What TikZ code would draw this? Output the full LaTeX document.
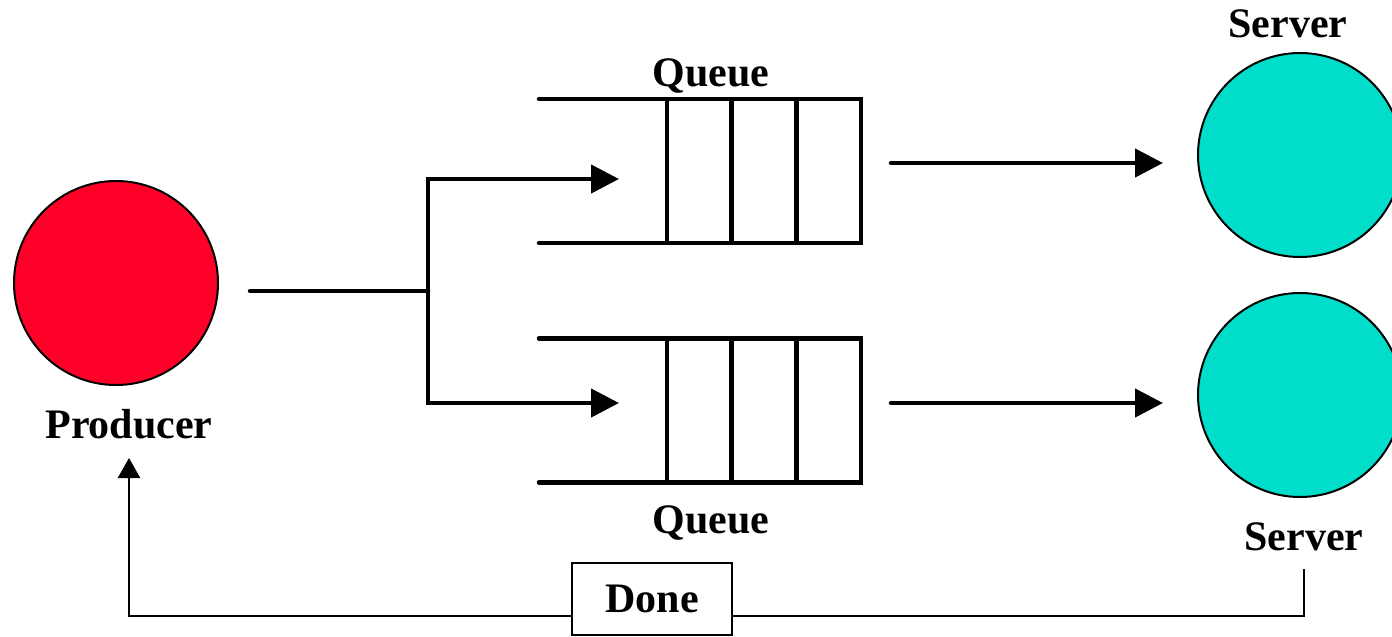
\documentclass[tikz,border=0pt]{standalone}
\usepackage{fontspec}
\setmainfont{Liberation Serif}
\usetikzlibrary{arrows.meta,calc}

\definecolor{prodred}{RGB}{255,0,40}
\definecolor{servcyan}{RGB}{0,222,203}

\tikzset{
  wire/.style={line width=4.5pt, line cap=round},
  flow/.style={wire, -{Triangle[length=28pt,width=28pt]}},
  fb/.style={line width=2.5pt, -{Triangle[length=20pt,width=22pt]}},
  ball/.style={circle, draw, line width=2pt, minimum size=204pt, inner sep=0pt},
  lbl/.style={font=\fontsize{42}{48}\selectfont\bfseries, inner sep=0pt, anchor=base},
  qbox/.style={rectangle, draw, line width=4.5pt, minimum width=194pt, minimum height=144pt,
               inner sep=0pt, outer sep=0pt},
  donebox/.style={rectangle, draw, fill=white, line width=2pt, minimum width=160pt, minimum height=72pt,
                  font=\fontsize{42}{48}\selectfont\bfseries, inner sep=0pt}
}

\begin{document}
\begin{tikzpicture}[x=1pt, y=-1pt]
\useasboundingbox (0,0) rectangle (1392,637);

% producer
\node[ball, fill=prodred] (prod) at (116,283) {};
\node[lbl] (prodlbl) at (129,438) {Producer};

% the two queues (cell block)
\node[qbox] (q1) at (764,171) {};
\node[qbox] (q2) at (764,410.5) {};
\foreach \q in {q1,q2}{
  \draw[wire] (\q.north west) -- ++(-128,0);
  \draw[wire] (\q.south west) -- ++(-128,0);
  \draw[line width=4.5pt] ($(\q.north west)!1/3!(\q.north east)$) -- ($(\q.south west)!1/3!(\q.south east)$);
  \draw[line width=4.5pt] ($(\q.north west)!2/3!(\q.north east)$) -- ($(\q.south west)!2/3!(\q.south east)$);
}
\node[lbl] (q1lbl) at (711,86) {Queue};
\node[lbl] (q2lbl) at (711,533) {Queue};

% servers
\node[ball, fill=servcyan] (s1) at (1300,155) {};
\node[ball, fill=servcyan] (s2) at (1300,395) {};
\node[lbl] (s1lbl) at (1288,37) {Server};
\node[lbl] (s2lbl) at (1304,550) {Server};

% splitter from producer into both queues
\coordinate (pout) at (250,291);
\coordinate (split) at (428,291);
\coordinate (q1in) at (619,179);
\coordinate (q2in) at (619,403);
\draw[wire] (pout) -- (split);
\draw[flow] (split) |- (q1in);
\draw[flow] (split) |- (q2in);

% queue outputs to servers
\coordinate (q1out) at (891,163);
\coordinate (s1in) at (1163,163);
\coordinate (q2out) at (891,403);
\coordinate (s2in) at (1163,403);
\draw[flow] (q1out) -- (s1in);
\draw[flow] (q2out) -- (s2in);

% completion feedback to the producer
\coordinate (fbout) at (1304,569);
\coordinate (fbin) at (129,458);
\coordinate (fbbase) at (0,616);
\draw[fb] (fbout) |- (fbin |- fbbase) -- (fbin);
\node[donebox] (done) at (652,599) {Done};
\end{tikzpicture}
\end{document}
